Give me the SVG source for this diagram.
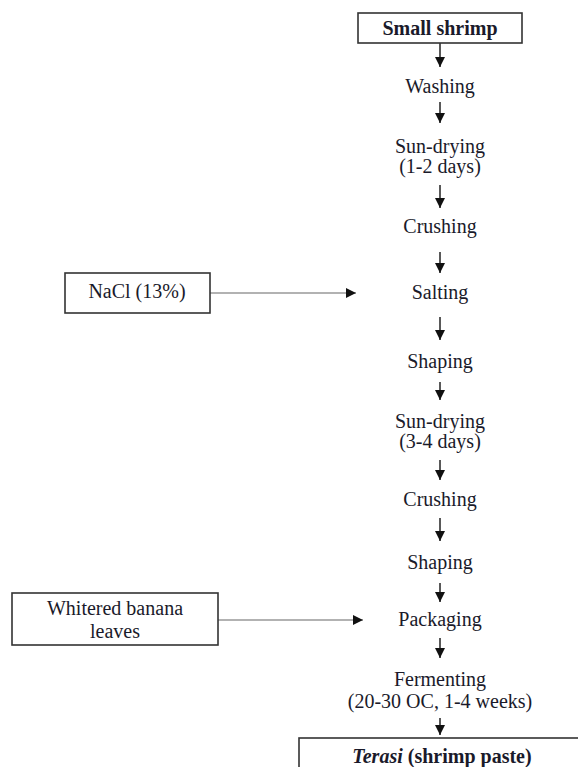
<svg xmlns="http://www.w3.org/2000/svg" width="578" height="767" viewBox="0 0 578 767">
<style>
text{font-size:20px;fill:#1a1a2a;text-anchor:middle}
.b{font-weight:bold}
.box{fill:#fff;stroke:#333;stroke-width:1.6}
.v{stroke:#222;stroke-width:1.5;fill:none}
.h{stroke:#666;stroke-width:1.2;fill:none}
</style>
<defs>
<marker id="ah" viewBox="0 0 10 10" refX="10" refY="5" markerWidth="10" markerHeight="10" markerUnits="userSpaceOnUse" orient="auto">
<path d="M0,0 L10,5 L0,10 Z" fill="#111"/>
</marker>
</defs>
<rect width="578" height="767" fill="#fff"/>
<g id="connectors">
<line class="v" x1="440" y1="43" x2="440" y2="67" marker-end="url(#ah)"/>
<line class="v" x1="440" y1="102" x2="440" y2="123" marker-end="url(#ah)"/>
<line class="v" x1="440" y1="185" x2="440" y2="208" marker-end="url(#ah)"/>
<line class="v" x1="440" y1="252" x2="440" y2="273" marker-end="url(#ah)"/>
<line class="v" x1="440" y1="317" x2="440" y2="340" marker-end="url(#ah)"/>
<line class="v" x1="440" y1="382" x2="440" y2="400" marker-end="url(#ah)"/>
<line class="v" x1="440" y1="460" x2="440" y2="480" marker-end="url(#ah)"/>
<line class="v" x1="440" y1="518" x2="440" y2="541" marker-end="url(#ah)"/>
<line class="v" x1="440" y1="583" x2="440" y2="602" marker-end="url(#ah)"/>
<line class="v" x1="440" y1="638" x2="440" y2="658" marker-end="url(#ah)"/>
<line class="v" x1="440" y1="718" x2="440" y2="735" marker-end="url(#ah)"/>
<line class="h" x1="210" y1="293" x2="356" y2="293" marker-end="url(#ah)"/>
<line class="h" x1="218" y1="620" x2="363" y2="620" marker-end="url(#ah)"/>
</g>
<g font-family="Liberation Serif, Times New Roman, DejaVu Serif, serif">
<g id="small-shrimp"><rect class="box" x="358" y="13" width="164" height="30"/><text class="b" x="440" y="35">Small shrimp</text></g>
<g id="washing"><text x="440" y="93">Washing</text></g>
<g id="sun-drying-1"><text x="440" y="153">Sun-drying</text><text x="440" y="173">(1-2 days)</text></g>
<g id="crushing-1"><text x="440" y="233">Crushing</text></g>
<g id="nacl"><rect class="box" x="65" y="273" width="145" height="40"/><text x="137" y="298">NaCl (13%)</text></g>
<g id="salting"><text x="440" y="299">Salting</text></g>
<g id="shaping-1"><text x="440" y="368">Shaping</text></g>
<g id="sun-drying-2"><text x="440" y="428">Sun-drying</text><text x="440" y="448">(3-4 days)</text></g>
<g id="crushing-2"><text x="440" y="506">Crushing</text></g>
<g id="shaping-2"><text x="440" y="569">Shaping</text></g>
<g id="banana"><rect class="box" x="12" y="593" width="206" height="52"/><text x="115" y="615">Whitered banana</text><text x="115" y="638">leaves</text></g>
<g id="packaging"><text x="440" y="626">Packaging</text></g>
<g id="fermenting"><text x="440" y="686">Fermenting</text><text x="440" y="708">(20-30 OC, 1-4 weeks)</text></g>
<g id="terasi"><rect class="box" x="299" y="738" width="300" height="50"/><text class="b" x="442" y="763"><tspan font-style="italic">Terasi</tspan> (shrimp paste)</text></g>
</g>
</svg>
